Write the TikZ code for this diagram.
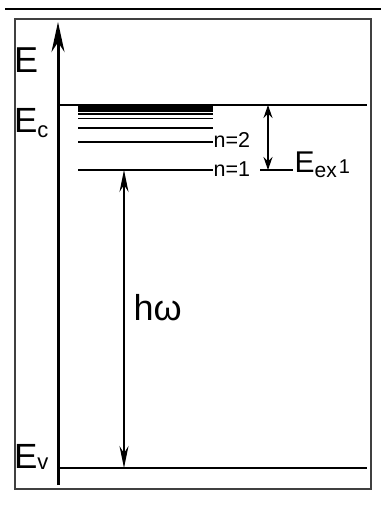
\documentclass[tikz,border=0pt]{standalone}
\usepackage{fontspec}
\setmainfont{Liberation Sans}
\usetikzlibrary{arrows.meta}
\tikzset{
  lbl/.style={anchor=base west, inner sep=0pt, outer sep=0pt},
  level/.style={line width=1.8pt, black},
  band/.style={line width=1.6pt, black},
  dim/.style={line width=1.4pt, black, {Stealth[length=13pt,width=9pt]}-{Stealth[length=13pt,width=9pt]}},
  bigdim/.style={line width=1.4pt, black, {Stealth[length=22pt,width=9pt]}-{Stealth[length=22pt,width=9pt]}},
}
\newcommand{\fs}[1]{\fontsize{#1}{#1}\selectfont}
\begin{document}
\begin{tikzpicture}[x=1pt,y=-1pt]
\useasboundingbox (0,0) rectangle (381,507);
% top rule and frame
\draw[line width=2.2pt] (5,9) -- (381,9);
\draw[line width=1.2pt, black!75] (15,19) rectangle (371,489);
% axis
\coordinate (axbot) at (58,485);
\coordinate (axtop) at (58,22);
\draw[line width=3pt, -{Stealth[length=30pt,width=13pt]}] (axbot) -- (axtop);
% band edges
\coordinate (ecL) at (58,105);
\coordinate (ecR) at (367,105);
\coordinate (evL) at (58,468);
\coordinate (evR) at (367,468);
\draw[level] (ecL) -- (ecR);
\draw[level] (evL) -- (evR);
% exciton levels
\fill (78,106) rectangle (213,111.5);
\draw[band] (78,114) -- (213,114);
\draw[band] (78,118.5) -- (213,118.5);
\draw[band] (78,128) -- (213,128);
\coordinate (n2L) at (78,142);
\coordinate (n2R) at (213,142);
\coordinate (n1L) at (78,170);
\coordinate (n1R) at (213,170);
\draw[level] (n2L) -- (n2R);
\draw[level] (n1L) -- (n1R);
\coordinate (exL) at (260,170);
\coordinate (exR) at (293,170);
\draw[level] (exL) -- (exR);
% labels
\node[lbl] (E) at (14,72) {\fs{36}E};
\node[lbl] (Ec) at (14,132) {\fs{35}E\raisebox{-5pt}{\fs{22}c}};
\node[lbl] (Ev) at (14,468) {\fs{35}E\raisebox{-1pt}{\fs{22}v}};
\node[lbl] (n2) at (213.6,147) {\fs{21.5}n=2};
\node[lbl] (n1) at (213.6,176) {\fs{21.5}n=1};
\node[lbl] (Eex) at (294.6,172) {\fs{30}E\raisebox{-5pt}{\fs{21}ex}\kern2pt\raisebox{-1pt}{\fs{20}1}};
\node[lbl] (hw) at (133.7,320) {\fs{36}hω};
% arrows
\coordinate (a1t) at (268,105);
\coordinate (a1b) at (268,170);
\draw[dim] (a1t) -- (a1b);
\coordinate (a2t) at (124,170);
\coordinate (a2b) at (124,468);
\draw[bigdim] (a2t) -- (a2b);
\end{tikzpicture}
\end{document}
